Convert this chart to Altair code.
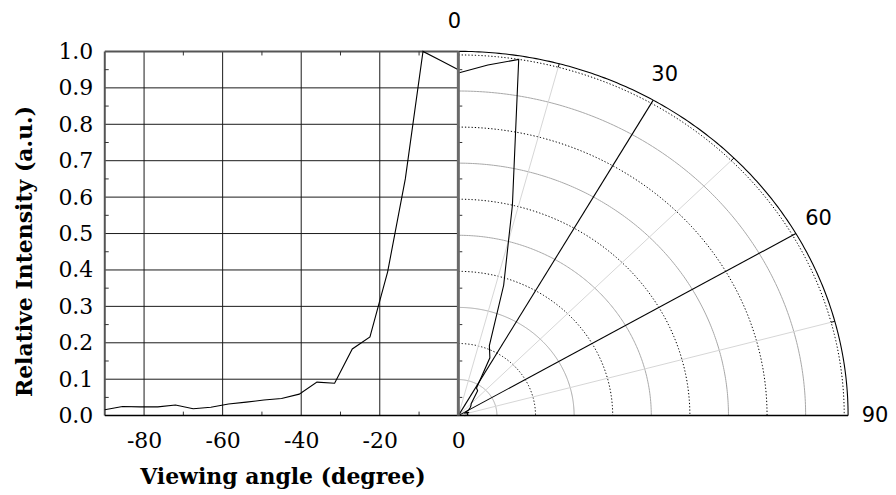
import altair as alt
import numpy as np
import pandas as pd

# ---------------- data ----------------
angle_left = [-90, -85.5, -81, -76.5, -72, -67.5, -63, -58.5, -54, -49.5, -45,
              -40.5, -36, -31.5, -27, -22.5, -18, -13.5, -9, -4.5, 0]
intensity_left = [0.016, 0.025, 0.024, 0.024, 0.029, 0.019, 0.023, 0.032, 0.037, 0.043, 0.047,
                  0.059, 0.092, 0.089, 0.183, 0.216, 0.395, 0.65, 1.0, 0.975, 0.95]

polar_angle = [0, 4.5, 9, 13.5, 18, 22.5, 27, 31.5, 36, 40.5, 45,
               49.5, 54, 58.5, 63, 67.5, 72, 76.5, 81, 85.5, 90]
polar_r = [0.95, 0.975, 1.0, 0.6, 0.38, 0.21, 0.18, 0.09, 0.085, 0.06, 0.047,
           0.043, 0.038, 0.032, 0.023, 0.019, 0.029, 0.024, 0.024, 0.025, 0.016]

x_ticks = [-80, -60, -40, -20, 0]
x_minor = [-70, -50, -30, -10]
y_ticks = [0.0, 0.1, 0.2, 0.3, 0.4, 0.5, 0.6, 0.7, 0.8, 0.9, 1.0]
y_minor = [0.05, 0.15, 0.25, 0.35, 0.45, 0.55, 0.65, 0.75, 0.85, 0.95]
ring_r = [0.1, 0.2, 0.3, 0.4, 0.5, 0.6, 0.7, 0.8, 0.9, 1.0]
spoke_major = [30, 60]
spoke_minor = [15, 45, 75]
polar_labels = ["0", "30", "60", "90"]
polar_label_angles = [0, 30, 60, 90]

x_title = "Viewing angle (degree)"
y_title = "Relative Intensity (a.u.)"

# ---------------- geometry / style constants ----------------
PX_PER_DEG = 3.94
XR = 387 / PX_PER_DEG       # x-units per unit radius in the polar part
YR = 361.5 / 365            # y-units per unit radius in the polar part
R_EDGE = 1.01
R_LABEL = 1.09
X_MIN = -90
X_MAX = R_EDGE * XR
W = round((X_MAX - X_MIN) * PX_PER_DEG)
H = 365

SERIF = "DejaVu Serif"
SANS = "DejaVu Sans"

XS = alt.Scale(domain=[X_MIN, X_MAX], nice=False, zero=False)
YS = alt.Scale(domain=[0, 1], nice=False, zero=False)

X_AX = alt.Axis(values=x_ticks, labelExpr="toString(datum.value)", grid=False, ticks=False,
                domain=False,
                labelFont=SERIF, labelFontSize=22, labelColor="black", labelPadding=15,
                labelFlush=False, labelOverlap=False, labelBound=False,
                title=x_title, titleFont=SERIF, titleFontSize=22, titleFontWeight="bold",
                titleColor="black", titleX=178, titleY=68, titleAlign="center",
                titleBaseline="alphabetic", titleAnchor="start")
Y_AX = alt.Axis(values=y_ticks, format=".1f", grid=False, ticks=False, domain=False,
                labelFont=SERIF, labelFontSize=22, labelColor="black", labelPadding=12,
                labelFlush=False, labelOverlap=False, labelBound=False,
                title=y_title, titleFont=SERIF, titleFontSize=22, titleFontWeight="bold",
                titleColor="black", titleX=-73, titleY=200, titleAngle=270,
                titleAlign="center", titleBaseline="alphabetic", titleAnchor="start")


def X(f="x"):
    return alt.X(f"{f}:Q", scale=XS, axis=X_AX)


def Y(f="y"):
    return alt.Y(f"{f}:Q", scale=YS, axis=Y_AX)


def seg_df(rows):
    return pd.DataFrame(rows, columns=["x", "y", "x2", "y2"])


def rule_layer(df, color, width=1.0, dash=None):
    kw = dict(color=color, strokeWidth=width)
    if dash:
        kw["strokeDash"] = dash
    return alt.Chart(df).mark_rule(**kw).encode(
        x=X(), y=Y(), x2="x2:Q", y2="y2:Q")


def pol(r, a):
    t = np.deg2rad(a)
    return r * np.sin(t) * XR, r * np.cos(t) * YR


# ---------------- Cartesian grid & frame ----------------
hgrid = seg_df([(X_MIN, v, 0, v) for v in y_ticks[1:-1]])
vgrid = seg_df([(v, 0, v, 1) for v in x_ticks[:-1]])
frame = seg_df([(X_MIN, 1, 0, 1), (X_MIN, 0, X_MIN, 1)])
bottom = seg_df([(X_MIN, 0, X_MAX, 0)])
zero_axis = seg_df([(0, 0, 0, 1)])
tk_w = 1.0
tk_h = 0.011
minor = seg_df([(X_MIN, v, X_MIN + tk_w, v) for v in y_minor]
               + [(0, v, tk_w, v) for v in y_minor]
               + [(v, 0, v, tk_h) for v in x_minor]
               + [(v, 1, v, 1 - tk_h) for v in x_minor])

# ---------------- polar grid ----------------
ths = np.linspace(0, 90, 181)
arc_rows = []
for k, r in enumerate(ring_r):
    for j, a in enumerate(ths):
        px, py = pol(r, a)
        arc_rows.append({"ring": r, "kind": "solid" if k % 2 == 0 else "dot",
                         "o": j, "x": px, "y": py})
arcs = pd.DataFrame(arc_rows)
edge_rows = []
for j, a in enumerate(ths):
    px, py = pol(R_EDGE, a)
    edge_rows.append({"o": j, "x": px, "y": py})
edge = pd.DataFrame(edge_rows)

spk_major = seg_df([(0, 0) + pol(R_EDGE, a) for a in spoke_major])
spk_minor = seg_df([(0, 0) + pol(1.0, a) for a in spoke_minor])
spk_tick = seg_df([pol(1.0, a) + pol(R_EDGE, a) for a in spoke_minor])

# ---------------- curves ----------------
left_df = pd.DataFrame({"x": angle_left, "y": intensity_left, "o": range(len(angle_left))})
pxs, pys = pol(np.array(polar_r), np.array(polar_angle))
polar_df = pd.DataFrame({"x": pxs, "y": pys, "o": range(len(polar_r))})

lx, ly = pol(R_LABEL, np.array(polar_label_angles))
lab_df = pd.DataFrame({"x": lx, "y": ly, "t": polar_labels})

layers = [
    rule_layer(hgrid, "#1a1a1a", 1),
    rule_layer(vgrid, "#1a1a1a", 1),
    alt.Chart(arcs[arcs.kind == "solid"]).mark_line(color="#a8a8a8", strokeWidth=1).encode(
        x=X(), y=Y(), detail="ring:N", order="o:Q"),
    alt.Chart(arcs[arcs.kind == "dot"]).mark_line(color="black", strokeWidth=1,
                                                  strokeDash=[1.3, 2]).encode(
        x=X(), y=Y(), detail="ring:N", order="o:Q"),
    rule_layer(spk_minor, "#d6d6d6", 1),
    rule_layer(spk_tick, "black", 1),
    rule_layer(spk_major, "black", 1.1),
    alt.Chart(edge).mark_line(color="black", strokeWidth=1.1).encode(
        x=X(), y=Y(), order="o:Q"),
    rule_layer(frame, "#555555", 2),
    rule_layer(minor, "#333333", 1),
    alt.Chart(left_df).mark_line(color="black", strokeWidth=1.1).encode(
        x=X(), y=Y(), order="o:Q"),
    alt.Chart(polar_df).mark_line(color="black", strokeWidth=1.1).encode(
        x=X(), y=Y(), order="o:Q"),
    rule_layer(bottom, "black", 1.5),
    rule_layer(zero_axis, "#6a6a6a", 3),
    alt.Chart(lab_df).mark_text(font=SANS, fontSize=21, color="black", align="center",
                                baseline="middle", dx=-4).encode(
        x=X(), y=Y(), text="t:N"),
]

chart = alt.layer(*layers).properties(
    width=W, height=H,
    autosize=alt.AutoSizeParams(type="none"),
    padding={"left": 97, "top": 43, "right": 40, "bottom": 75},
    background="white",
).configure_view(stroke=None)

chart.save("out.html", embed_options={"renderer": "svg", "actions": False})
